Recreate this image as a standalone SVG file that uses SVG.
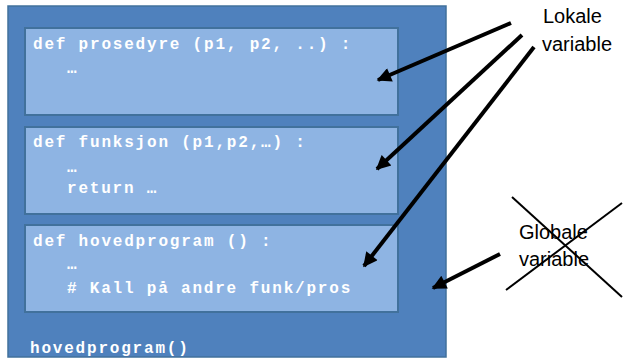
<svg xmlns="http://www.w3.org/2000/svg" width="625" height="358" viewBox="0 0 625 358">
  <defs>
    <style>
      .outer { fill: #4F81BD; stroke: #41719C; stroke-width: 1.5; }
      .box { fill: #8EB4E3; stroke: #41719C; stroke-width: 2; }
      .code { font-family: "Liberation Mono", "Courier New", monospace; font-weight: bold; font-size: 16px; fill: #FFFFFF; letter-spacing: 1.8px; }
      .label { font-family: "Liberation Sans", Arial, sans-serif; font-size: 20px; fill: #000000; }
      .arrow { stroke: #000000; stroke-width: 4; fill: none; marker-end: url(#head); }
      .cross { stroke: #000000; stroke-width: 2; }
    </style>
    <marker id="head" viewBox="0 0 10 10" refX="9" refY="5" markerWidth="4" markerHeight="3.6" orient="auto" markerUnits="strokeWidth">
      <path d="M0,0 L10,5 L0,10 Z" fill="#000000"/>
    </marker>
  </defs>

  <rect width="625" height="358" fill="#FFFFFF"/>

  <!-- program body -->
  <g id="program">
    <rect class="outer" x="8" y="6" width="438" height="351"/>
    <text class="code" x="30" y="353">hovedprogram()</text>
  </g>

  <g id="prosedyre">
    <rect class="box" x="25" y="28" width="373" height="87"/>
    <text class="code" x="33" y="49">def prosedyre (p1, p2, ..) :</text>
    <text class="code" x="67" y="73">…</text>
  </g>

  <g id="funksjon">
    <rect class="box" x="25" y="127" width="373" height="87"/>
    <text class="code" x="33" y="147">def funksjon (p1,p2,…) :</text>
    <text class="code" x="67" y="172">…</text>
    <text class="code" x="67" y="193">return …</text>
  </g>

  <g id="hovedprogram">
    <rect class="box" x="25" y="225" width="373" height="87"/>
    <text class="code" x="33" y="246">def hovedprogram () :</text>
    <text class="code" x="67" y="269">…</text>
    <text class="code" x="67" y="293"># Kall på andre funk/pros</text>
  </g>

  <g id="lokale">
    <text class="label" x="543" y="23">Lokale</text>
    <text class="label" x="542" y="51">variable</text>
  </g>

  <g id="globale">
    <text class="label" x="519" y="239">Globale</text>
    <text class="label" x="519" y="266">variable</text>
    <line class="cross" x1="512" y1="197" x2="622" y2="297"/>
    <line class="cross" x1="506" y1="290" x2="622" y2="203"/>
  </g>

  <g id="connectors">
    <line class="arrow" x1="511" y1="23" x2="378" y2="80"/>
    <line class="arrow" x1="522" y1="35" x2="377" y2="169"/>
    <line class="arrow" x1="534" y1="47" x2="364" y2="266"/>
    <line class="arrow" x1="500" y1="254" x2="433" y2="288"/>
  </g>
</svg>
